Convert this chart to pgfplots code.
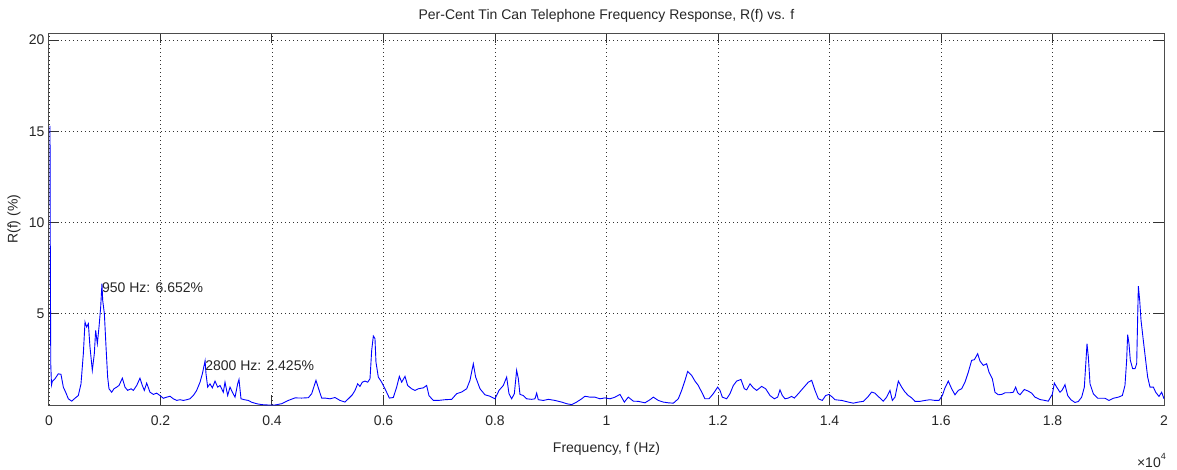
\documentclass[border=0pt]{standalone}
\usepackage{fontspec}
\setmainfont{Liberation Sans}
\usepackage{pgfplots}
\pgfplotsset{compat=1.18}
\usepackage{pgfplotstable}
\pgfplotstableread{
f r
18 15.3
24 7.9
32 2.2
45 1.10
60 1.30
108 1.44
167 1.71
215 1.68
257 0.98
299 0.70
347 0.34
407 0.21
466 0.37
526 0.52
574 1.16
616 2.81
646 4.55
676 4.27
706 4.46
735 3.18
777 1.90
813 2.81
837 4.09
867 3.36
897 4.27
927 5.37
950 6.652
963 5.74
993 5.01
1023 3.18
1052 1.53
1076 0.89
1124 0.70
1166 0.89
1214 0.98
1256 1.07
1316 1.47
1363 0.98
1411 0.80
1471 0.89
1513 0.80
1573 1.07
1632 1.47
1674 1.07
1710 0.80
1752 1.20
1812 0.70
1872 0.58
1931 0.65
1991 0.52
2051 0.37
2111 0.43
2171 0.48
2230 0.34
2290 0.25
2350 0.29
2410 0.25
2470 0.29
2529 0.34
2589 0.52
2649 0.80
2709 1.25
2751 1.71
2800 2.425
2816 1.71
2846 0.98
2888 1.16
2930 0.94
2978 1.31
3026 0.98
3068 1.07
3127 0.70
3157 1.25
3205 0.52
3247 0.98
3289 0.70
3337 0.43
3384 1.16
3408 1.40
3444 0.34
3504 0.29
3576 0.25
3636 0.15
3725 0.07
3815 0.02
3935 0.00
4054 0.00
4173 0.07
4293 0.25
4413 0.39
4532 0.38
4652 0.40
4712 0.62
4759 1.07
4789 1.35
4831 0.94
4891 0.38
4951 0.38
5040 0.34
5130 0.41
5220 0.25
5309 0.16
5369 0.34
5441 0.56
5489 0.80
5537 1.16
5578 1.02
5620 1.25
5668 1.31
5716 1.25
5758 1.44
5788 2.99
5818 3.78
5847 3.64
5865 2.35
5907 1.53
5967 1.25
6027 0.89
6105 0.38
6176 0.41
6236 0.98
6284 1.57
6326 1.25
6386 1.57
6433 1.07
6505 0.89
6565 0.80
6625 0.89
6714 0.94
6774 1.07
6816 0.51
6894 0.25
6983 0.25
7103 0.29
7223 0.31
7312 0.62
7402 0.71
7492 0.89
7551 1.35
7611 2.26
7653 1.53
7731 0.89
7820 0.56
7910 0.48
8000 0.34
8072 0.80
8149 1.07
8209 1.53
8251 0.62
8299 0.34
8347 0.62
8388 1.90
8418 1.46
8448 0.58
8508 0.52
8568 0.34
8658 0.31
8717 0.34
8747 0.65
8777 0.29
8867 0.25
8957 0.31
9076 0.25
9196 0.16
9285 0.07
9375 0.02
9465 0.16
9554 0.34
9614 0.48
9704 0.43
9794 0.43
9883 0.34
9973 0.39
10063 0.34
10152 0.43
10242 0.58
10320 0.16
10391 0.43
10481 0.21
10571 0.20
10690 0.12
10780 0.29
10840 0.43
10930 0.25
11019 0.16
11109 0.12
11199 0.10
11288 0.34
11348 0.80
11408 1.35
11456 1.84
11528 1.62
11587 1.31
11647 1.07
11707 0.71
11767 0.34
11838 0.34
11916 0.62
11994 0.98
12036 0.80
12078 0.43
12155 0.34
12215 0.62
12275 1.07
12335 1.31
12412 1.40
12472 0.89
12514 0.83
12574 1.16
12634 0.94
12694 0.80
12783 1.02
12855 0.89
12933 0.52
13010 0.34
13070 0.43
13112 0.83
13154 0.52
13202 0.34
13261 0.38
13321 0.47
13369 0.38
13441 0.62
13531 0.94
13620 1.25
13680 1.35
13740 0.80
13800 0.34
13871 0.25
13931 0.52
13991 0.58
14051 0.43
14098 0.29
14218 0.25
14338 0.16
14428 0.10
14517 0.16
14607 0.20
14685 0.43
14756 0.71
14816 0.65
14888 0.43
14965 0.21
15025 0.43
15085 0.80
15127 0.25
15175 0.43
15235 1.31
15294 0.98
15354 0.71
15414 0.52
15474 0.39
15533 0.20
15623 0.20
15713 0.25
15803 0.29
15892 0.25
15964 0.25
16024 0.52
16072 0.94
16131 1.31
16191 0.89
16251 0.56
16311 0.80
16371 0.89
16430 1.25
16490 1.80
16550 2.45
16598 2.48
16658 2.81
16699 2.41
16759 2.17
16819 2.26
16861 1.80
16921 1.44
16968 0.70
17028 0.56
17088 0.58
17148 0.67
17237 0.67
17297 0.70
17339 0.98
17375 0.67
17417 0.56
17494 0.85
17566 0.76
17626 0.65
17686 0.43
17776 0.30
17865 0.25
17925 0.21
17973 0.47
17997 0.58
18033 1.20
18075 0.98
18134 0.70
18176 0.83
18224 1.12
18272 0.52
18332 0.28
18403 0.14
18463 0.19
18523 0.43
18571 0.98
18601 2.45
18619 3.36
18643 2.63
18673 1.16
18732 0.62
18810 0.37
18941 0.37
19013 0.25
19091 0.37
19181 0.43
19253 0.52
19300 1.07
19330 2.45
19348 3.86
19372 3.36
19396 2.45
19438 1.99
19480 1.99
19510 2.26
19528 4.83
19540 6.51
19564 5.74
19588 4.64
19629 3.54
19671 2.45
19707 1.53
19749 0.98
19809 0.98
19851 0.70
19910 0.47
19958 0.70
20000 0.34
}\datatable

\begin{document}
\begin{tikzpicture}
\useasboundingbox (-49bp,-65bp) rectangle (1128bp,405bp);
\begin{axis}[
  at={(0,0)}, anchor=south west,
  scale only axis, width=1115bp, height=371.5bp,
  xmin=0, xmax=20000, ymin=0, ymax=20.36,
  clip mode=individual,
  xtick={0,2000,...,20000},
  xticklabels={0,0.2,0.4,0.6,0.8,1,1.2,1.4,1.6,1.8,2},
  ytick={5,10,15,20}, yticklabels={5,10,15,20},
  scaled x ticks=false,
  tick align=inside, major tick length=10bp,
  grid=major,
  major grid style={black!80, line width=0.7bp, dash pattern=on 0.8bp off 3.2bp},
  axis line style={black!70, line width=1bp},
  every tick/.style={black!80, line width=1bp},
  tick label style={font=\fontsize{14bp}{16bp}\selectfont, black!85},
  xticklabel style={yshift=-7bp},
  yticklabel style={xshift=-1bp},
  label style={font=\fontsize{14bp}{16bp}\selectfont, black!85},
  xlabel={Frequency, f (Hz)},
  xlabel style={at={(rel axis cs:0.5,0)}, anchor=center, yshift=-44bp},
  ylabel={R(f) (\%)},
  ylabel style={at={(rel axis cs:0,0.5)}, anchor=center, yshift=35bp},
  title={Per-Cent Tin Can Telephone Frequency Response, R(f) vs. f},
  title style={font=\fontsize{14bp}{16bp}\selectfont, black!85, at={(rel axis cs:0.5,1)}, anchor=center, yshift=12bp},
]
\addplot[color={rgb,255:red,0;green,0;blue,255}, line width=0.9bp, mark=none] table[x=f,y=r]{\datatable};
\node[anchor=west, inner sep=0pt, yshift=-4.5bp, font=\fontsize{14bp}{16bp}\selectfont, black!85] at (axis cs:950,6.652) {950 Hz: 6.652\%};
\node[anchor=west, inner sep=0pt, yshift=-4.5bp, font=\fontsize{14bp}{16bp}\selectfont, black!85] at (axis cs:2800,2.425) {2800 Hz: 2.425\%};
\node[anchor=east, inner sep=0pt, font=\fontsize{14bp}{16bp}\selectfont, black!85] at (rel axis cs:1,0) [xshift=2bp, yshift=-55bp] {×10\raisebox{8bp}{\fontsize{9bp}{9bp}\selectfont 4}};
\end{axis}
\end{tikzpicture}
\end{document}
